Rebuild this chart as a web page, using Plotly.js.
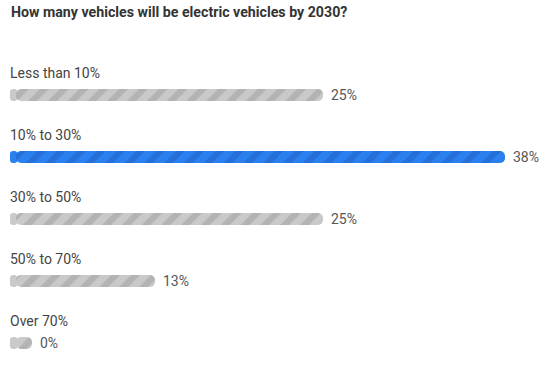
<!DOCTYPE html>
<html>
<head>
<meta charset="utf-8">
<script src="https://cdn.plot.ly/plotly-3.0.1.min.js"></script>
<style>html,body{margin:0;padding:0;background:#fff}#chart{width:548px;height:371px}</style>
</head>
<body>
<div id="chart"></div>
<script>
// ---- data ----
const titleText = 'How many vehicles will be electric vehicles by 2030?';
const categories = ['Less than 10%', '10% to 30%', '30% to 50%', '50% to 70%', 'Over 70%'];
const values = [25, 38, 25, 13, 0];
const highlight = [false, true, false, false, false];

// ---- styling / scale calibration ----
const PX_PER_UNIT = 14;          // px per percentage point
const START = 37 / 14;           // axis value where bars begin (left edge of plot)
const CAP = 6 / PX_PER_UNIT;     // left rounded cap length
const MIN_END = START + 22 / PX_PER_UNIT; // minimum pill length
const PLOT_W = 538;
const FONT = 'Roboto, Arial, sans-serif';

const STYLES = {
  gray: {fg: '#b3b3b3', bg: '#c9c9c9'},
  blue: {fg: '#2570d8', bg: '#2b80ef'}
};

const ends = values.map(v => Math.max(v, MIN_END));

const traces = [];
['gray', 'blue'].forEach(key => {
  const idx = categories.map((c, i) => i).filter(i => (highlight[i] ? 'blue' : 'gray') === key);
  if (!idx.length) return;
  const st = STYLES[key];
  const ys = idx.map(i => categories[i]);
  // rounded left cap (plain fill)
  traces.push({
    type: 'bar', orientation: 'h', y: ys,
    x: idx.map(() => -CAP - 0.1), base: idx.map(() => START + CAP + 0.1),
    width: 0.19, marker: {color: st.bg, cornerradius: 6, line: {width: 0}},
    hoverinfo: 'skip', showlegend: false
  });
  // main body with rounded right end
  traces.push({
    type: 'bar', orientation: 'h', y: ys,
    x: idx.map(i => ends[i] - (START + CAP)), base: idx.map(() => START + CAP),
    width: 0.19,
    marker: {
      color: st.bg, cornerradius: 6, line: {width: 0},
      pattern: {shape: '/', size: 14, solidity: 0.45, fillmode: 'replace', fgcolor: st.fg, bgcolor: st.bg}
    },
    hoverinfo: 'skip', showlegend: false
  });
});

const annotations = [];
categories.forEach((c, i) => {
  annotations.push({
    text: c, x: 0, xref: 'paper', xanchor: 'left', y: c, yref: 'y', yanchor: 'middle',
    yshift: 22, xshift: -2, showarrow: false,
    font: {family: FONT, size: 14, color: '#444'}
  });
  annotations.push({
    text: values[i] + '%', x: ends[i], xref: 'x', xanchor: 'left', y: c, yref: 'y', yanchor: 'middle',
    xshift: 6, showarrow: false,
    font: {family: FONT, size: 14, color: '#555'}
  });
});

const layout = {
  width: 548, height: 371,
  margin: {l: 10, r: 0, t: 64, b: 0},
  paper_bgcolor: '#fff', plot_bgcolor: '#fff',
  barmode: 'overlay',
  title: {
    text: '<b>' + titleText + '</b>',
    font: {family: FONT, size: 14.2, color: '#333'},
    x: 11 / 548, xanchor: 'left', xref: 'container',
    y: 1 - 12 / 371, yanchor: 'middle', yref: 'container'
  },
  xaxis: {range: [START, START + PLOT_W / PX_PER_UNIT], visible: false, fixedrange: true},
  yaxis: {type: 'category', categoryorder: 'array', categoryarray: categories,
          range: [-0.5 + 307 / 62, -0.5], visible: false, fixedrange: true},
  annotations: annotations,
  showlegend: false
};

Plotly.newPlot('chart', traces, layout, {displayModeBar: false, staticPlot: true});
</script>
</body>
</html>
